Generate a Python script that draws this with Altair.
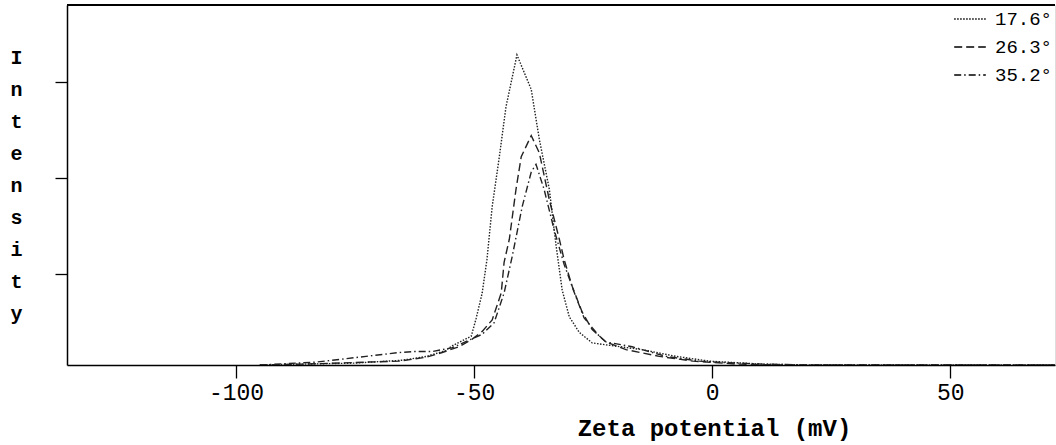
import altair as alt
import pandas as pd

# ---- data ----
angles = ["17.6°", "26.3°", "35.2°"]

x_176 = [-95, -85, -75, -65, -60, -56, -54.6, -50.6, -49.6, -48.3, -47.3, -46.2, -44.7, -43.3, -41.0,
         -38.0, -36.3, -34.2, -32.8, -31.5, -30.0, -27.9, -25.2, -22.3, -14.7, -7.6, -0.6, 10, 20, 72]
y_176 = [0, 0.01, 0.02, 0.05, 0.09, 0.15, 0.20, 0.30, 0.48, 0.75, 1.10, 1.65, 2.17, 2.69, 3.23,
         2.87, 2.35, 1.83, 1.25, 0.78, 0.50, 0.34, 0.23, 0.21, 0.16, 0.09, 0.04, 0.01, 0, 0]

x_263 = [-95, -85, -72.7, -65.8, -60.1, -56.7, -53.2, -50.4, -48.3, -46.2, -44.3, -43.7, -42.6, -41.2,
         -40.1, -38.0, -36.3, -34.2, -32.1, -31.1, -29.4, -27.3, -25.2, -22.3, -18.1, -11.1, -4.0, 5, 15, 72]
y_263 = [0, 0.01, 0.03, 0.04, 0.08, 0.13, 0.19, 0.27, 0.35, 0.47, 0.75, 1.07, 1.31, 1.83,
         2.17, 2.39, 2.21, 1.72, 1.31, 1.10, 0.82, 0.55, 0.37, 0.24, 0.16, 0.09, 0.04, 0.01, 0, 0]

x_352 = [-95, -83.2, -72.7, -65.8, -62.6, -58.8, -54.6, -48.3, -45.8, -43.7, -42.0, -39.9, -38.0, -37.0,
         -35.3, -33.2, -31.1, -29.0, -26.9, -23.7, -22.3, -16.8, -9.7, -2.7, 0.8, 10, 20, 72]
y_352 = [0, 0.03, 0.09, 0.13, 0.14, 0.14, 0.18, 0.32, 0.44, 0.75, 1.13, 1.65, 2.01, 2.09,
         1.83, 1.41, 1.05, 0.76, 0.49, 0.30, 0.24, 0.19, 0.09, 0.04, 0.03, 0.01, 0, 0]

x_ticks = [-100, -50, 0, 50]
y_ticks = [0.95, 1.95, 2.95]

rows = []
for ang, xs, ys in [(angles[0], x_176, y_176), (angles[1], x_263, y_263), (angles[2], x_352, y_352)]:
    for i, (a, b) in enumerate(zip(xs, ys)):
        rows.append({"angle": ang, "zeta": a, "intensity": b, "order": i})
df = pd.DataFrame(rows)

FONT = "Liberation Mono"
W, H = 988, 360

lines = alt.Chart(df).mark_line(strokeWidth=1.4, clip=True).encode(
    x=alt.X("zeta:Q",
            scale=alt.Scale(domain=[-135.5, 72.0], nice=False, zero=False),
            axis=alt.Axis(values=x_ticks, title="Zeta potential (mV)", grid=False,
                          tickSize=13, tickColor="black", tickWidth=1.3,
                          domainColor="black", domainWidth=1.5,
                          labelFont=FONT, labelFontSize=23, labelColor="black",
                          labelPadding=3, labelExpr="datum.value + ''",
                          titleFont=FONT, titleFontSize=24, titleFontWeight="bold",
                          titleColor="black", titleX=647, titleY=63,
                          titleAlign="center", titleBaseline="middle")),
    y=alt.Y("intensity:Q",
            scale=alt.Scale(domain=[0, 3.75], nice=False, zero=False),
            axis=alt.Axis(values=y_ticks, labels=False, grid=False,
                          tickSize=12, tickColor="black", tickWidth=1.3,
                          domainColor="black", domainWidth=1.5,
                          title=["I", "n", "t", "e", "n", "s", "i", "t", "y"],
                          titleAngle=0, titleAlign="center", titleBaseline="alphabetic",
                          titleX=-51, titleY=58, titleLineHeight=32,
                          titleFont=FONT, titleFontSize=20, titleFontWeight="bold",
                          titleColor="black")),
    order="order:Q",
    strokeDash=alt.StrokeDash("angle:N",
                              scale=alt.Scale(domain=angles,
                                              range=[[1.5, 1.5], [8, 4], [7, 3, 1.5, 3]]),
                              legend=alt.Legend(title=None, orient="none", legendX=886, legendY=-3,
                                                symbolType="stroke", symbolSize=1000,
                                                symbolStrokeWidth=1.4, symbolStrokeColor="black",
                                                labelFont=FONT, labelFontSize=19, labelColor="black",
                                                labelOffset=8, rowPadding=1, labelLimit=300)),
    color=alt.value("#222222"),
)

top = alt.Chart(df).mark_rule(color="black", strokeWidth=1.5).encode(
    x=alt.value(0), x2=alt.value(W), y=alt.value(0)
)

chart = alt.layer(lines, top).properties(
    width=W, height=H,
    autosize=alt.AutoSizeParams(type="none"),
    padding={"left": 67, "top": 5, "right": 1, "bottom": 80},
).configure_view(stroke=None).configure(background="white")

chart.save("out.html", embed_options={"renderer": "svg", "actions": False})
